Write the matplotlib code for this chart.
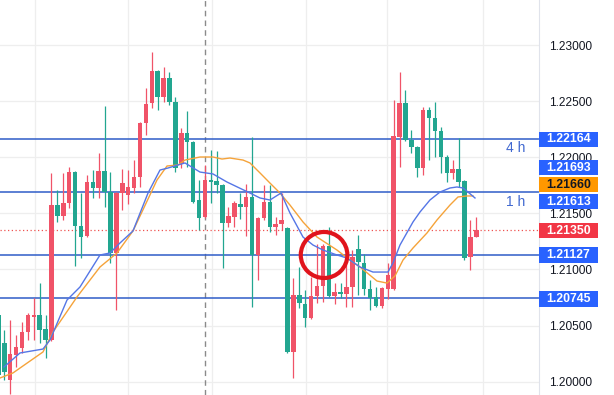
import numpy as np
import matplotlib.pyplot as plt
from matplotlib.patches import Rectangle, Ellipse
from matplotlib.transforms import blended_transform_factory

plt.rcParams['font.family'] = ['Liberation Sans', 'DejaVu Sans']

# candles, the first one is cut by the left edge (index -1)
opens = [1.20594, 1.20345, 1.20015, 1.20238, 1.20300, 1.20443, 1.20576, 1.20594, 1.20470, 1.20372,
         1.21574, 1.21476, 1.21592, 1.21868, 1.21387, 1.21298, 1.21779, 1.21726, 1.21877, 1.21690,
         1.21147, 1.21681, 1.21664, 1.21726, 1.21824, 1.22305, 1.22483, 1.22768, 1.22537, 1.22706,
         1.22492, 1.21949, 1.22216, 1.22136, 1.21619, 1.21467, 1.21797, 1.21788, 1.21753, 1.21414,
         1.21467, 1.21583, 1.21557, 1.21646, 1.21129, 1.21459, 1.21601, 1.21378, 1.21405, 1.21370,
         1.20265, 1.20772, 1.20692, 1.20568, 1.20764, 1.20853, 1.21209, 1.20764, 1.20799, 1.20781,
         1.20844, 1.21182, 1.21058, 1.20826, 1.20755, 1.20674, 1.20826, 1.20826, 1.22180, 1.22483,
         1.22154, 1.22091, 1.21904, 1.22421, 1.22350, 1.22234, 1.22002, 1.21860, 1.21895, 1.21788,
         1.21111, 1.21289]
highs = [1.20639, 1.20461, 1.20550, 1.20416, 1.20532, 1.20612, 1.20746, 1.20879, 1.20594, 1.21860,
         1.21708, 1.21860, 1.21913, 1.21875, 1.21681, 1.21842, 1.21886, 1.22038, 1.22456, 1.21868,
         1.21690, 1.21895, 1.21886, 1.21975, 1.22310, 1.22617, 1.22938, 1.22775, 1.22804, 1.22759,
         1.22537, 1.22260, 1.22412, 1.22145, 1.21797, 1.21931, 1.22064, 1.22056, 1.21760, 1.21557,
         1.21610, 1.21681, 1.21762, 1.22180, 1.21467, 1.21753, 1.21753, 1.21467, 1.21681, 1.21375,
         1.20924, 1.21022, 1.20817, 1.20933, 1.21227, 1.21227, 1.21378, 1.20879, 1.20879, 1.21058,
         1.21173, 1.21307, 1.21138, 1.20906, 1.20844, 1.20844, 1.21058, 1.22510, 1.22759, 1.22599,
         1.22243, 1.22100, 1.22448, 1.22448, 1.22492, 1.22269, 1.22020, 1.21975, 1.22171, 1.21795,
         1.21441, 1.21467]
lows = [1.20015, 1.20015, 1.19890, 1.20131, 1.20256, 1.20372, 1.20372, 1.20345, 1.20211, 1.20360,
        1.21423, 1.21441, 1.21548, 1.21031, 1.21102, 1.21290, 1.21637, 1.21637, 1.21557, 1.21058,
        1.20639, 1.21530, 1.21583, 1.21681, 1.21735, 1.22198, 1.22439, 1.22421, 1.22492, 1.22465,
        1.21868, 1.21904, 1.21913, 1.21592, 1.21352, 1.21459, 1.21592, 1.21681, 1.21013, 1.21378,
        1.21378, 1.21450, 1.21298, 1.20666, 1.20906, 1.21441, 1.21334, 1.21307, 1.21352, 1.20256,
        1.20033, 1.20657, 1.20487, 1.20560, 1.20701, 1.20710, 1.20755, 1.20692, 1.20746, 1.20666,
        1.20666, 1.20772, 1.20772, 1.20639, 1.20666, 1.20657, 1.20737, 1.20817, 1.21913, 1.22145,
        1.22038, 1.21824, 1.21842, 1.21975, 1.22002, 1.21860, 1.21779, 1.21806, 1.21735, 1.21084,
        1.20995, 1.21289]
closes = [1.20060, 1.20086, 1.20247, 1.20309, 1.20443, 1.20594, 1.20594, 1.20461, 1.20372, 1.21574,
          1.21476, 1.21592, 1.21868, 1.21387, 1.21289, 1.21779, 1.21726, 1.21877, 1.21690, 1.21147,
          1.21681, 1.21770, 1.21735, 1.21824, 1.22305, 1.22474, 1.22768, 1.22537, 1.22706, 1.22492,
          1.21904, 1.22216, 1.22136, 1.21601, 1.21459, 1.21797, 1.21779, 1.21753, 1.21414, 1.21476,
          1.21592, 1.21557, 1.21646, 1.21129, 1.21459, 1.21601, 1.21378, 1.21405, 1.21441, 1.20265,
          1.20772, 1.20701, 1.20568, 1.20764, 1.20853, 1.21209, 1.20764, 1.20799, 1.20781, 1.20844,
          1.21111, 1.21067, 1.20826, 1.20746, 1.20674, 1.20835, 1.20951, 1.22189, 1.22483, 1.22154,
          1.22091, 1.21904, 1.22421, 1.22350, 1.22234, 1.22002, 1.21860, 1.21895, 1.21779, 1.21102,
          1.21289, 1.21350]

# moving averages (bar index, price)
fast_x = [-0.05, 2.66, 6.56, 7.75, 10.63, 12.83, 16.22, 17.92, 19.61, 21.81, 24.36, 26.39, 27.75, 29.44,
          30.63, 33.17, 35.37, 37.75, 41.64, 43.34, 45.03, 46.9, 48.42, 50.63, 52.32, 54.02, 56.39, 58.08,
          60.29, 62.49, 65.03, 65.88, 67.07, 69.27, 70.46, 72.15, 73.85, 75.54, 76.73, 77.75, 78.59, 79.78]
fast_ma = [1.20131, 1.20256, 1.20291, 1.20372, 1.20728, 1.20844, 1.21129, 1.21147, 1.21236, 1.21343,
           1.21681, 1.21886, 1.21904, 1.21931, 1.21949, 1.21868, 1.21851, 1.21779, 1.21681, 1.21637,
           1.21619, 1.21681, 1.21503, 1.21289, 1.21218, 1.21173, 1.21129, 1.21102, 1.21022, 1.20977,
           1.20977, 1.21058, 1.21218, 1.21423, 1.21512, 1.21619, 1.21690, 1.21726, 1.21735, 1.21726,
           1.21690, 1.21637]
slow_x = [-0.73, 1.47, 6.56, 8.25, 12.32, 16.22, 19.1, 21.81, 25.88, 27.58, 29.44, 30.63, 33.17, 35.37,
          36.9, 38.25, 40.46, 41.64, 43.34, 45.03, 46.73, 48.42, 50.63, 53.0, 56.39, 58.59, 60.29, 63.17,
          64.86, 66.22, 67.58, 69.27, 71.64, 73.34, 75.54, 76.9, 78.42, 79.44]
slow_ma = [1.20033, 1.20078, 1.20265, 1.20443, 1.20755, 1.21022, 1.21147, 1.21343, 1.21797, 1.21922,
           1.21931, 1.21975, 1.22002, 1.22002, 1.21984, 1.21993, 1.21975, 1.21949, 1.21860, 1.21770,
           1.21681, 1.21574, 1.21423, 1.21289, 1.21173, 1.21084, 1.21022, 1.20897, 1.20879, 1.20942,
           1.21084, 1.21191, 1.21325, 1.21441, 1.21574, 1.21646, 1.21655, 1.21655]

levels = [1.22164, 1.21690, 1.21127, 1.20745]
level_names = {1.22164: '4 h', 1.21690: '1 h'}
last_price = 1.21350
price_ticks = [1.20000, 1.20500, 1.21000, 1.21500, 1.22000, 1.22500, 1.23000]
time_grid = [5.2, 21.0, 35.2, 51.1, 64.9, 81.1]
session_break = 34.0

# right-hand price tags: text, position, box colour, text colour
tag_text = ['1.22164', '1.21693', '1.21660', '1.21613', '1.21350', '1.21127', '1.20745']
tag_pos = [1.22160, 1.21907, 1.21755, 1.21604, 1.21345, 1.21129, 1.20737]
tag_color = ['#2962FF', '#2962FF', '#FF9800', '#2962FF', '#F23645', '#2962FF', '#2962FF']
tag_tc = ['white', 'white', '#131722', 'white', 'white', 'white', 'white']

up_col = '#F05368'
down_col = '#22A690'

fig = plt.figure(figsize=(6.14, 3.95), dpi=100)
ax = fig.add_axes([0, 0, 539 / 614, 1])

o = np.array(opens)
h = np.array(highs)
l = np.array(lows)
c = np.array(closes)
x = np.arange(len(o)) - 1
cols = np.where(c >= o, up_col, down_col)

ax.vlines(x, l, h, colors=cols, linewidth=0.9, zorder=3)
body = np.maximum(np.abs(c - o), 0.00008)
ax.bar(x, body, bottom=np.minimum(o, c), width=0.76, color=cols, zorder=3)

ax.plot(slow_x, slow_ma, color='#F5A33A', lw=1.0, zorder=4)
ax.plot(fast_x, fast_ma, color='#5576E6', lw=1.0, zorder=4)

for lv in levels:
    ax.axhline(lv, color='#2F5CC8', lw=1.1, zorder=2)
    if lv in level_names:
        ax.text(86.7, lv - 0.00085, level_names[lv], color='#4068D0', fontsize=10,
                ha='center', va='center')
ax.axhline(last_price, color='#EF5350', lw=0.9, ls=(0, (1, 2)), zorder=2)

for t in time_grid:
    ax.axvline(t, color='#EEEEEE', lw=0.9, zorder=0)
ax.axvline(session_break, color='#8A8A8A', lw=1.0, ls=(0, (4, 3)), zorder=1)

ax.add_patch(Ellipse((54.2, 1.21129), 7.9, 0.0041, fill=False, edgecolor='#E0141C',
                     lw=3.0, zorder=6))

ax.set_xlim(-0.729, 90.63)
ax.set_ylim(1.198815, 1.23401)
ax.set_yticks(price_ticks)
ax.set_yticklabels(['%.5f' % p for p in price_ticks])
ax.yaxis.tick_right()
ax.tick_params(axis='y', length=0, pad=7, labelsize=8.6, labelcolor='#131722')
ax.tick_params(axis='x', bottom=False, labelbottom=False)
ax.grid(axis='y', color='#EEEEEE', lw=0.9, zorder=0)
ax.set_axisbelow(True)
for s in ['top', 'left', 'bottom']:
    ax.spines[s].set_visible(False)
ax.spines['right'].set_color('#E0E3EB')

tr = blended_transform_factory(ax.transAxes, ax.transData)
box_w = 59 / 539
box_h = 0.00136
for txt, pos, bc, tc in zip(tag_text, tag_pos, tag_color, tag_tc):
    ax.add_patch(Rectangle((1.0, pos - box_h / 2), box_w, box_h, transform=tr,
                           facecolor=bc, edgecolor='none', clip_on=False, zorder=10))
    ax.text(1.0 + box_w / 2, pos, txt, transform=tr, ha='center', va='center',
            color=tc, fontsize=8.8, fontweight='bold', clip_on=False, zorder=11)

fig.savefig('out.png', dpi=100)
